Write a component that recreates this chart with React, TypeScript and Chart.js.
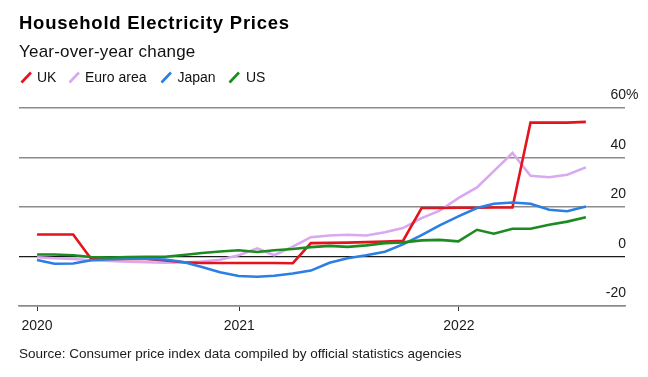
import React, { useEffect, useRef } from "react";
import { Chart, registerables } from "chart.js";

Chart.register(...registerables);

// Monthly observations (value for each month, plotted at month end)
const months = [
  "2020-01", "2020-02", "2020-03", "2020-04", "2020-05", "2020-06",
  "2020-07", "2020-08", "2020-09", "2020-10", "2020-11", "2020-12",
  "2021-01", "2021-02", "2021-03", "2021-04", "2021-05", "2021-06",
  "2021-07", "2021-08", "2021-09", "2021-10", "2021-11", "2021-12",
  "2022-01", "2022-02", "2022-03", "2022-04", "2022-05", "2022-06",
  "2022-07",
];

const ukValues = [
  8.9, 8.9, 8.9, -1.0, -1.0, -0.9, -1.0, -1.6, -2.3, -2.6, -2.6, -2.6,
  -2.6, -2.6, -2.7, 5.4, 5.5, 5.6, 5.8, 6.0, 6.3, 19.6, 19.6, 19.7,
  19.7, 19.8, 19.8, 54.1, 54.1, 54.1, 54.4,
];
const euroValues = [
  -0.3, -0.7, -1.0, -1.5, -1.8, -2.1, -2.3, -2.5, -2.4, -2.0, -1.3, 0.5,
  3.3, 0.5, 4.0, 7.8, 8.5, 8.8, 8.5, 9.8, 11.5, 15.5, 18.5, 23.6,
  27.9, 34.5, 41.8, 32.6, 32.0, 33.0, 36.0,
];
const japanValues = [
  -1.4, -2.9, -2.8, -1.5, -1.1, -0.9, -0.9, -1.2, -2.2, -4.2, -6.4, -7.9,
  -8.2, -7.8, -6.9, -5.7, -2.5, -0.7, 0.5, 1.9, 4.9, 8.6, 12.6, 16.2,
  19.6, 21.3, 21.8, 21.3, 18.9, 18.3, 20.2,
];
const usValues = [
  0.8, 0.8, 0.5, -0.2, -0.4, -0.2, -0.1, -0.1, 0.6, 1.4, 2.0, 2.5,
  1.8, 2.5, 3.0, 3.8, 4.3, 3.9, 4.5, 5.4, 5.7, 6.5, 6.7, 6.1,
  10.8, 9.2, 11.2, 11.2, 12.8, 14.1, 15.9,
];

const seriesNames = ["UK", "Euro area", "Japan", "US"];
const seriesColors = ["#e5131d", "#d9a8f0", "#2b7fe3", "#1d8a22"];

const xTickDates = ["2020-01-31", "2021-01-01", "2022-01-01"];
const xTickLabels = ["2020", "2021", "2022"];
const xRange = ["2020-01-01", "2022-10-04"];

const yTicks = [-20, 0, 20, 40, 60];
const yTickLabels = ["-20", "0", "20", "40", "60"];

const FONT = '"Liberation Sans", Arial, Helvetica, sans-serif';
const DAY = 86400000;
const origin = Date.UTC(2020, 0, 1);
const dayOf = (iso: string) => {
  const [y, m, d] = iso.split("-").map(Number);
  return (Date.UTC(y, m - 1, d) - origin) / DAY;
};
const monthEnd = (ym: string) => {
  const [y, m] = ym.split("-").map(Number);
  return (Date.UTC(y, m, 0) - origin) / DAY;
};

const toPoints = (vals: number[]) =>
  vals.map((v, i) => ({ x: monthEnd(months[i]), y: v }));

const yLabelPlugin = {
  id: "yLabels",
  afterDraw(chart: any) {
    const { ctx, chartArea, scales } = chart;
    const ys = scales.y;
    ctx.save();
    ctx.font = `14px ${FONT}`;
    ctx.fillStyle = "#1a1a1a";
    ctx.textBaseline = "alphabetic";
    yTicks.forEach((v, i) => {
      const py = ys.getPixelForValue(v);
      ctx.textAlign = "right";
      ctx.fillText(yTickLabels[i], chartArea.right + 1, py - 9);
      if (i === yTicks.length - 1) {
        ctx.textAlign = "left";
        ctx.fillText("%", chartArea.right + 1, py - 9);
      }
    });
    ctx.restore();
  },
};

export default function App() {
  const canvasRef = useRef<HTMLCanvasElement | null>(null);

  useEffect(() => {
    if (!canvasRef.current) return;
    const allValues = [ukValues, euroValues, japanValues, usValues];
    // first dataset is drawn on top: US, Japan, UK, Euro area
    const order = [3, 2, 0, 1];
    const chart = new Chart(canvasRef.current, {
      type: "line",
      data: {
        datasets: order.map((k) => ({
          label: seriesNames[k],
          data: toPoints(allValues[k]),
          borderColor: seriesColors[k],
          backgroundColor: seriesColors[k],
          borderWidth: 2.6,
          pointRadius: 0,
          tension: 0,
          fill: false,
        })),
      },
      options: {
        responsive: false,
        animation: false,
        events: [],
        layout: { padding: { left: 19, right: 23, top: 108, bottom: 0 } },
        plugins: {
          legend: { display: false },
          tooltip: { enabled: false },
          title: { display: false },
        },
        scales: {
          x: {
            type: "linear",
            min: dayOf(xRange[0]),
            max: dayOf(xRange[1]),
            afterBuildTicks: (scale: any) => {
              scale.ticks = xTickDates.map((d) => ({ value: dayOf(d) }));
            },
            afterFit: (scale: any) => {
              scale.height = 71;
            },
            grid: {
              drawOnChartArea: false,
              drawTicks: true,
              tickLength: 5,
              color: "#333333",
              lineWidth: 1,
            },
            border: { display: true, color: "#8c8c8c", width: 1.5 },
            ticks: {
              autoSkip: false,
              maxRotation: 0,
              padding: 7,
              color: "#1a1a1a",
              font: { family: FONT, size: 14 },
              callback: (_v: any, i: number) => xTickLabels[i],
            },
          },
          y: {
            type: "linear",
            min: yTicks[0],
            max: yTicks[yTicks.length - 1],
            afterBuildTicks: (scale: any) => {
              scale.ticks = yTicks.map((v) => ({ value: v }));
            },
            afterFit: (scale: any) => {
              scale.width = 0;
            },
            grid: {
              drawTicks: false,
              color: (c: any) => (c.tick && c.tick.value === 0 ? "#1a1a1a" : "#8c8c8c"),
              lineWidth: (c: any) => (c.tick && c.tick.value === 0 ? 1.2 : 1.5),
            },
            border: { display: false },
            ticks: { display: false },
          },
        },
      },
      plugins: [yLabelPlugin],
    } as any);
    return () => chart.destroy();
  }, []);

  const legendItems = [
    { m: 20, t: 37 },
    { m: 68, t: 85 },
    { m: 160, t: 177.5 },
    { m: 228, t: 246 },
  ];

  return (
    <div
      style={{
        position: "absolute",
        left: 0,
        top: 0,
        width: 648,
        height: 377,
        background: "#ffffff",
        fontFamily: FONT,
        color: "#111111",
        overflow: "hidden",
      }}
    >
      <canvas
        ref={canvasRef}
        width={648}
        height={377}
        style={{ position: "absolute", left: 0, top: 0, width: 648, height: 377 }}
      />
      <div
        style={{
          position: "absolute",
          left: 19,
          top: 13.6,
          fontSize: 18.5,
          lineHeight: "18.5px",
          fontWeight: 700,
          letterSpacing: 0.75,
          whiteSpace: "nowrap",
          color: "#000",
        }}
      >
        Household Electricity Prices
      </div>
      <div
        style={{
          position: "absolute",
          left: 19,
          top: 43,
          fontSize: 17,
          lineHeight: "17px",
          letterSpacing: 0.2,
          whiteSpace: "nowrap",
          color: "#111",
        }}
      >
        Year-over-year change
      </div>
      {legendItems.map((it, i) => (
        <React.Fragment key={seriesNames[i]}>
          <svg
            width={14}
            height={14}
            style={{ position: "absolute", left: it.m, top: 69.5 }}
          >
            <line
              x1={1.5}
              y1={12.5}
              x2={11}
              y2={2.5}
              stroke={seriesColors[i]}
              strokeWidth={2.6}
            />
          </svg>
          <div
            style={{
              position: "absolute",
              left: it.t,
              top: 70,
              fontSize: 14,
              lineHeight: "14px",
              whiteSpace: "nowrap",
              color: "#111",
            }}
          >
            {seriesNames[i]}
          </div>
        </React.Fragment>
      ))}
      <div
        style={{
          position: "absolute",
          left: 19,
          top: 347.3,
          fontSize: 13.5,
          lineHeight: "13.5px",
          whiteSpace: "nowrap",
          color: "#1a1a1a",
        }}
      >
        Source: Consumer price index data compiled by official statistics agencies
      </div>
    </div>
  );
}
